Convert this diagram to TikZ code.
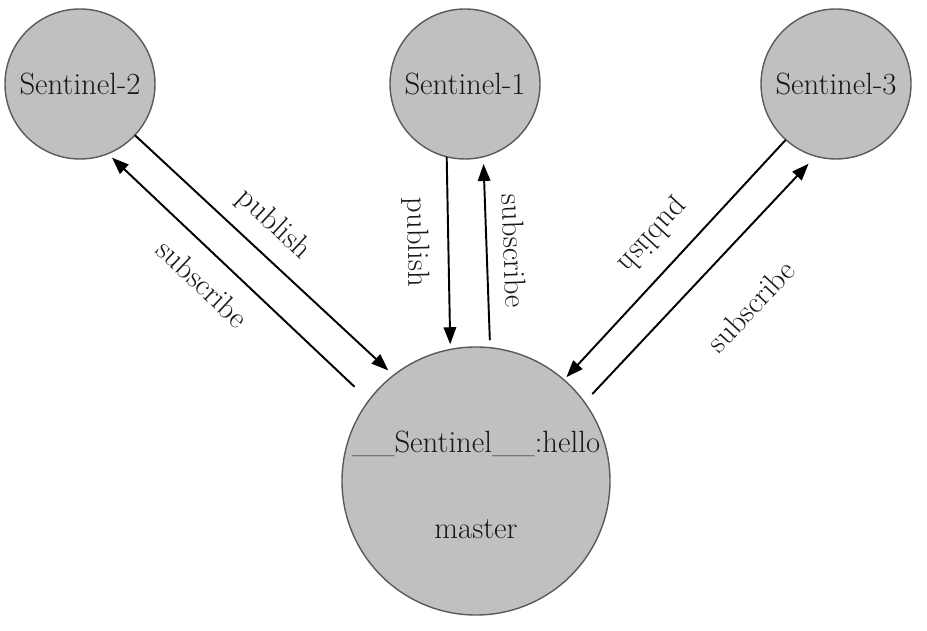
\documentclass[tikz,border=0pt]{standalone}
\usepackage{xcolor}
\usepackage{tikz}
\usetikzlibrary{arrows.meta}
\definecolor{nodefill}{RGB}{192,192,192}
\definecolor{noderim}{RGB}{90,90,90}
\definecolor{inkgray}{RGB}{25,25,25}
\tikzset{>={Triangle[length=0.34cm,width=0.25cm]}}

\begin{document}
\begin{tikzpicture}[line join = round, line cap = round,
    every node/.style={font=\fontsize{17.5}{21}\selectfont, text=inkgray},
    sentinel/.style={circle, draw=noderim, fill=nodefill, line width=0.8pt, minimum size=3cm, inner sep=0pt},
    channel/.style={line width=1.1pt, draw=black}]

                  \useasboundingbox (0,0) rectangle (18.54,12.62);

                  % sentinels
                  \node [sentinel] (s2) at (1.6,10.94) {Sentinel-2};
                  \node [sentinel] (s1) at (9.3,10.94) {Sentinel-1};
                  \node [sentinel] (s3) at (16.72,10.94) {Sentinel-3};

                  % master
                  \node [sentinel, minimum size=5.36cm] (m) at (9.52,3.0) {};
                  \node (mhello) at ([yshift=0.74cm]m.center) {\_\_Sentinel\_\_:hello};
                  \node (mname) at ([yshift=-0.96cm]m.center) {master};

                  % Sentinel-2
                  \draw[channel, ->, shorten >=0.13cm] (s2.-43) -- (m.128)
                        node[pos=0.46, sloped, above=0.17cm] (p2) {publish};
                  \draw[channel, <-, shorten <=0.1cm, shorten >=0.39cm] (s2.-68) -- (m.143)
                        node[pos=0.44, sloped, below=0.23cm] (b2) {subscribe};

                  % Sentinel-1
                  \draw[channel, ->, shorten >=0.09cm] (s1.-104) -- (m.101)
                        node[pos=0.44, sloped, below=0.24cm] (p1) {publish};
                  \draw[channel, <-, shorten <=0.13cm, shorten >=0.15cm] (s1.-76) -- (m.84)
                        node[pos=0.5, sloped, above=0.2cm] (b1) {subscribe};

                  % Sentinel-3
                  \draw[channel, ->, shorten >=0.06cm] (s3.-132) -- (m.49)
                        node[pos=0.49, sloped, allow upside down, below=0.25cm] (p3) {publish};
                  \draw[channel, ->, shorten <=0.22cm, shorten >=0.19cm] (m.36) -- (s3.-106)
                        node[pos=0.545, sloped, below=0.76cm] (b3) {subscribe};

\end{tikzpicture}
\end{document}
